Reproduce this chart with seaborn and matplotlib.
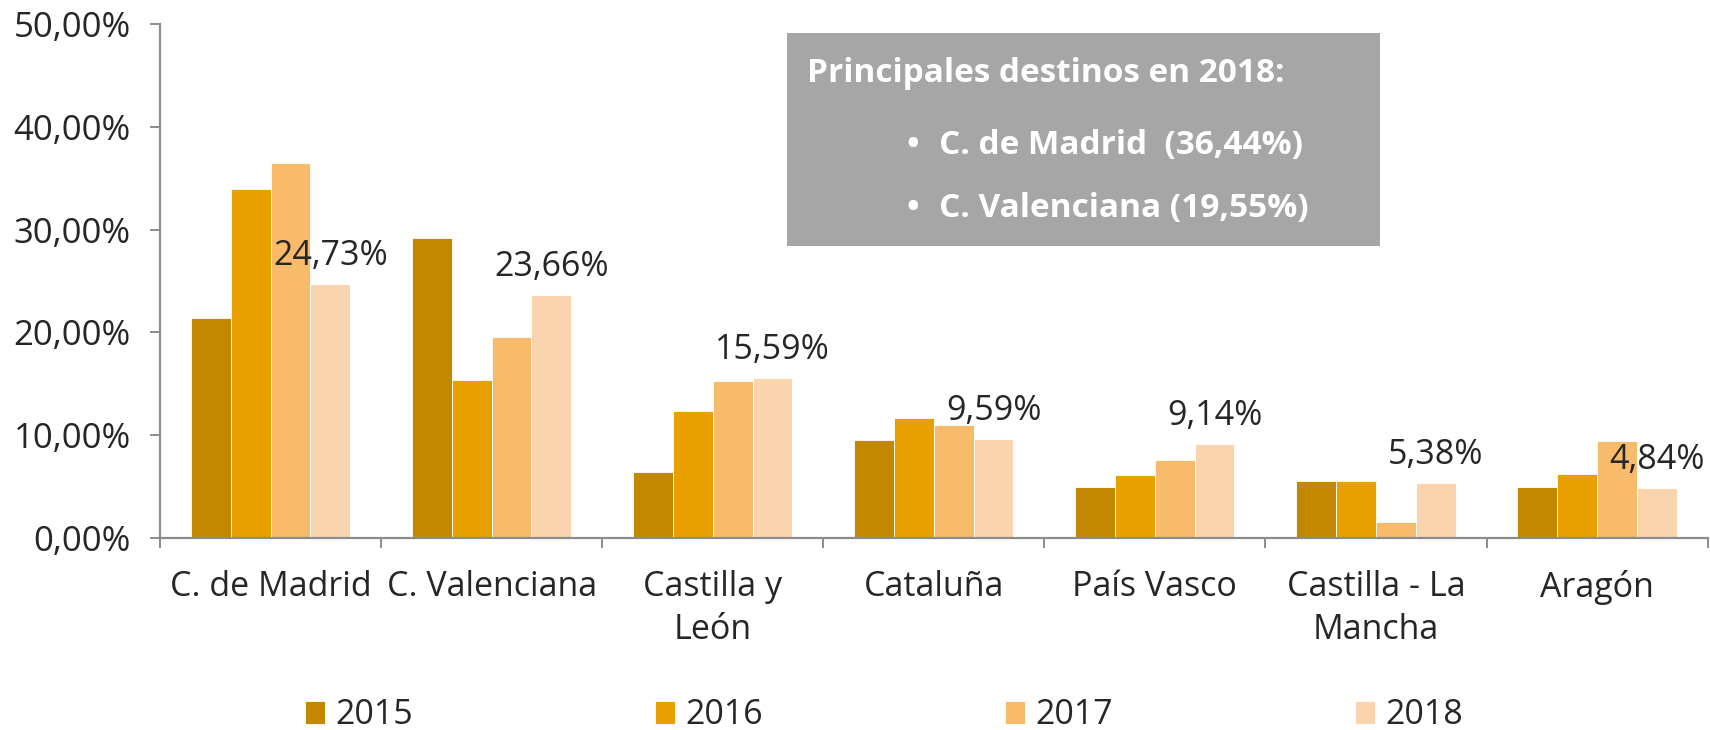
import seaborn as sns
import matplotlib.pyplot as plt
import matplotlib.patches as mpatches
from matplotlib.ticker import FuncFormatter, FixedLocator
import pandas as pd

# ---------------------------
# Data
# ---------------------------
regions = ["C. de Madrid", "C. Valenciana", "Castilla y\nLeón", "Cataluña",
           "País Vasco", "Castilla - La\nMancha", "Aragón"]
years = ["2015", "2016", "2017", "2018"]
v2015 = [21.43, 29.23, 6.40, 9.58, 5.00, 5.50, 5.00]
v2016 = [33.94, 15.40, 12.37, 11.67, 6.15, 5.56, 6.20]
v2017 = [36.44, 19.55, 15.24, 10.98, 7.56, 1.57, 9.40]
v2018 = [24.73, 23.66, 15.59, 9.59, 9.14, 5.38, 4.84]
labels_2018 = ["24,73%", "23,66%", "15,59%", "9,59%", "9,14%", "5,38%", "4,84%"]
colors = ["#C48800", "#E8A000", "#F8BB6C", "#FAD4AC"]

box_title = "Principales destinos en 2018:"
box_items = ["C. de Madrid  (36,44%)", "C. Valenciana (19,55%)"]

rows = []
for year, vals in zip(years, [v2015, v2016, v2017, v2018]):
    for reg, v in zip(regions, vals):
        rows.append({"Region": reg, "Year": year, "Value": v})
df = pd.DataFrame(rows)

# ---------------------------
# Styling
# ---------------------------
sns.set_style("white")
plt.rcParams["font.family"] = ["Open Sans", "DejaVu Sans"]
FS = 24.5
GRAY = "#8C8C8C"

fig = plt.figure(figsize=(17.1, 7.3), dpi=100)
ax = fig.add_axes([0.0936, 0.263, 0.905, 0.704])

sns.barplot(data=df, x="Region", y="Value", hue="Year", order=regions,
            hue_order=years, palette=colors, width=0.72, gap=0,
            edgecolor="white", linewidth=0.6, saturation=1, ax=ax)

ax.set_ylim(0, 50)
ax.set_xlim(-0.5, len(regions) - 0.5)
ax.set_yticks([0, 10, 20, 30, 40, 50])
ax.yaxis.set_major_formatter(FuncFormatter(lambda v, p: f"{v:.2f}%".replace(".", ",")))
ax.set_xlabel("")
ax.set_ylabel("")

for side in ["top", "right"]:
    ax.spines[side].set_visible(False)
for side in ["left", "bottom"]:
    ax.spines[side].set_color(GRAY)
    ax.spines[side].set_linewidth(1.6)

ax.tick_params(axis="y", direction="out", length=7, width=1.4, color=GRAY,
               labelsize=25, pad=14, left=True)
ax.tick_params(axis="x", which="major", length=0, labelsize=FS, pad=23)
ax.xaxis.set_minor_locator(FixedLocator([i - 0.5 for i in range(len(regions) + 1)]))
ax.tick_params(axis="x", which="minor", direction="out", length=7, width=1.4,
               color=GRAY, bottom=True)
for t in ax.get_xticklabels():
    t.set_linespacing(1.35)

# value labels on 2018 bars
ax.bar_label(ax.containers[3], labels=labels_2018, padding=8, fontsize=FS)

# legend
handles, labs = ax.get_legend_handles_labels()
ax.get_legend().remove()
fig.legend(handles, labs, loc="center", bbox_to_anchor=(0.517, 0.02), ncol=4,
           frameon=False, fontsize=FS, handlelength=0.6, handleheight=0.7,
           handletextpad=0.3, columnspacing=7.1)

# grey summary box
fig.add_artist(mpatches.Rectangle((0.460, 0.663), 0.347, 0.292,
                                  transform=fig.transFigure,
                                  facecolor="#A6A6A6", edgecolor="none"))
fig.text(0.472, 0.899, box_title, color="white", fontsize=24,
         fontweight="bold", va="center", ha="left")
for i, item in enumerate(box_items):
    y = 0.801 - i * 0.086
    fig.text(0.530, y, "•", color="white", fontsize=24, fontweight="bold",
             va="center", ha="left")
    fig.text(0.549, y, item, color="white", fontsize=24, fontweight="bold",
             va="center", ha="left")

plt.savefig("out.png", dpi=100)
